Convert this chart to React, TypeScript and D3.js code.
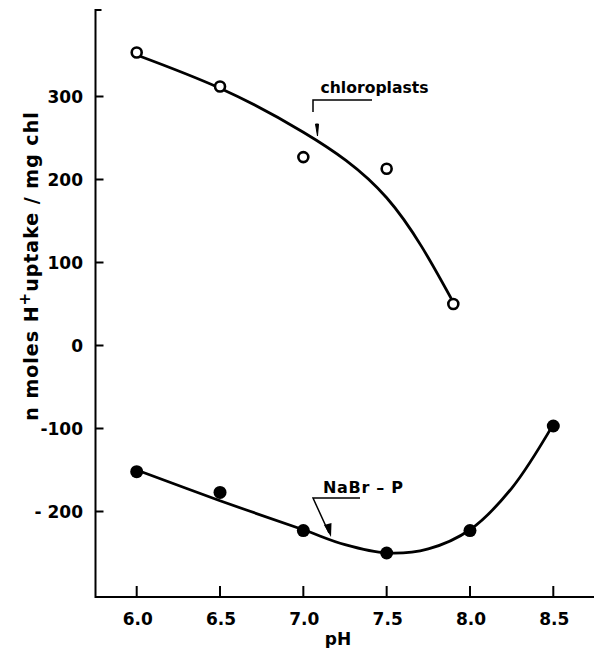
import * as d3 from 'd3';
import { useEffect, useRef } from 'react';

// measured points
const chloroPH = [6.0, 6.5, 7.0, 7.5, 7.9];
const chloroUptake = [353, 312, 227, 213, 50];
const nabrPH = [6.0, 6.5, 7.0, 7.5, 8.0, 8.5];
const nabrUptake = [-152, -177, -223, -250, -223, -97];

// hand-drawn fit curves
const chloroFitPH = [6.0, 6.5, 7.0, 7.5, 7.9];
const chloroFit = [350, 310, 257, 178, 52];
const nabrFitPH = [6.0, 6.5, 7.0, 7.25, 7.5, 7.75, 8.0, 8.25, 8.5];
const nabrFit = [-150, -187, -222, -240, -250, -245, -222, -172, -95];

const xTicks = [6.0, 6.5, 7.0, 7.5, 8.0, 8.5];
const xTickLabels = ['6.0', '6.5', '7.0', '7.5', '8.0', '8.5'];
const yTicks = [300, 200, 100, 0, -100, -200];
const yTickLabels = ['300', '200', '100', '0', '-100', '- 200'];

const FONT = '"DejaVu Sans", sans-serif';

const App = () => {
  const ref = useRef<SVGSVGElement | null>(null);

  useEffect(() => {
    if (!ref.current) return;
    const svg = d3.select(ref.current);
    svg.selectAll('*').remove();

    const width = 594;
    const height = 648;
    const left = 95.5;
    const bottom = 597;
    const top = 10;

    const x = d3.scaleLinear().domain([6.0, 8.5]).range([136.7, 553.3]);
    const y = d3.scaleLinear().domain([0, 300]).range([345.5, 96.5]);

    svg.attr('width', width).attr('height', height);

    const g = svg.append('g');

    // axes
    g.append('path')
      .attr('d', `M${left + 6},${top}H${left}V${bottom}H${width}`)
      .attr('fill', 'none')
      .attr('stroke', '#000')
      .attr('stroke-width', 2);

    g.selectAll('.xtick')
      .data(xTicks)
      .enter()
      .append('line')
      .attr('x1', d => x(d))
      .attr('x2', d => x(d))
      .attr('y1', bottom)
      .attr('y2', bottom - 11)
      .attr('stroke', '#000')
      .attr('stroke-width', 2);

    g.selectAll('.xlabel')
      .data(xTicks)
      .enter()
      .append('text')
      .attr('x', d => x(d) + 1)
      .attr('y', 625)
      .attr('text-anchor', 'middle')
      .attr('font-family', FONT)
      .attr('font-weight', 'bold')
      .attr('font-size', 17)
      .text((_, i) => xTickLabels[i]);

    g.selectAll('.ytick')
      .data(yTicks)
      .enter()
      .append('line')
      .attr('x1', left)
      .attr('x2', left + 8)
      .attr('y1', d => y(d))
      .attr('y2', d => y(d))
      .attr('stroke', '#000')
      .attr('stroke-width', 2);

    g.selectAll('.ylabel')
      .data(yTicks)
      .enter()
      .append('text')
      .attr('x', 83)
      .attr('y', d => y(d) + 6.5)
      .attr('text-anchor', 'end')
      .attr('font-family', FONT)
      .attr('font-weight', 'bold')
      .attr('font-size', 17)
      .text((_, i) => yTickLabels[i]);

    g.append('text')
      .attr('x', 338)
      .attr('y', 645)
      .attr('text-anchor', 'middle')
      .attr('font-family', FONT)
      .attr('font-weight', 'bold')
      .attr('font-size', 17)
      .text('pH');

    const yl = g.append('text')
      .attr('transform', 'translate(38,266) rotate(-90)')
      .attr('text-anchor', 'middle')
      .attr('font-family', FONT)
      .attr('font-weight', 'bold')
      .attr('font-size', 19)
      .attr('letter-spacing', 1);
    yl.append('tspan').text('n moles H');
    yl.append('tspan').attr('dy', -8).attr('font-size', 15).text('+');
    yl.append('tspan').attr('dy', 8).text('uptake / mg chl');

    // fit curves
    const topLine = d3
      .line<[number, number]>()
      .x(d => x(d[0]))
      .y(d => y(d[1]))
      .curve(d3.curveNatural);

    const bottomLine = d3
      .line<[number, number]>()
      .x(d => x(d[0]))
      .y(d => y(d[1]))
      .curve(d3.curveCatmullRom.alpha(0.5));

    g.append('path')
      .attr('d', topLine(chloroFitPH.map((p, i) => [p, chloroFit[i]]) as [number, number][]))
      .attr('fill', 'none')
      .attr('stroke', '#000')
      .attr('stroke-width', 2.8);

    g.append('path')
      .attr('d', bottomLine(nabrFitPH.map((p, i) => [p, nabrFit[i]]) as [number, number][]))
      .attr('fill', 'none')
      .attr('stroke', '#000')
      .attr('stroke-width', 2.8);

    // points
    g.selectAll('.open')
      .data(chloroPH)
      .enter()
      .append('circle')
      .attr('cx', d => x(d))
      .attr('cy', (_, i) => y(chloroUptake[i]))
      .attr('r', 5)
      .attr('fill', '#fff')
      .attr('stroke', '#000')
      .attr('stroke-width', 2.6);

    g.selectAll('.filled')
      .data(nabrPH)
      .enter()
      .append('circle')
      .attr('cx', d => x(d))
      .attr('cy', (_, i) => y(nabrUptake[i]))
      .attr('r', 6.5)
      .attr('fill', '#000');

    // annotations
    g.append('text')
      .attr('x', 320.5)
      .attr('y', 92.5)
      .attr('font-family', FONT)
      .attr('font-weight', 'bold')
      .attr('font-size', 16)
      .attr('textLength', 108)
      .attr('lengthAdjust', 'spacingAndGlyphs')
      .text('chloroplasts');

    g.append('path')
      .attr('d', 'M372,100H313V112')
      .attr('fill', 'none')
      .attr('stroke', '#000')
      .attr('stroke-width', 1.5);
    g.append('path')
      .attr('d', 'M315.5,124L318.5,124L317.5,136Z')
      .attr('fill', '#000')
      .attr('stroke', '#000')
      .attr('stroke-width', 1);

    g.append('text')
      .attr('x', 323)
      .attr('y', 493)
      .attr('font-family', FONT)
      .attr('font-weight', 'bold')
      .attr('font-size', 16)
      .attr('textLength', 80)
      .attr('lengthAdjust', 'spacing')
      .text('NaBr – P');

    g.append('path')
      .attr('d', 'M360,498H313L329,533')
      .attr('fill', 'none')
      .attr('stroke', '#000')
      .attr('stroke-width', 1.5);
    g.append('path')
      .attr('d', 'M324,525L331,537L331.5,523Z')
      .attr('fill', '#000');
  }, []);

  return <svg ref={ref} style={{ position: 'absolute', left: 0, top: 0 }} />;
};

export default App;
